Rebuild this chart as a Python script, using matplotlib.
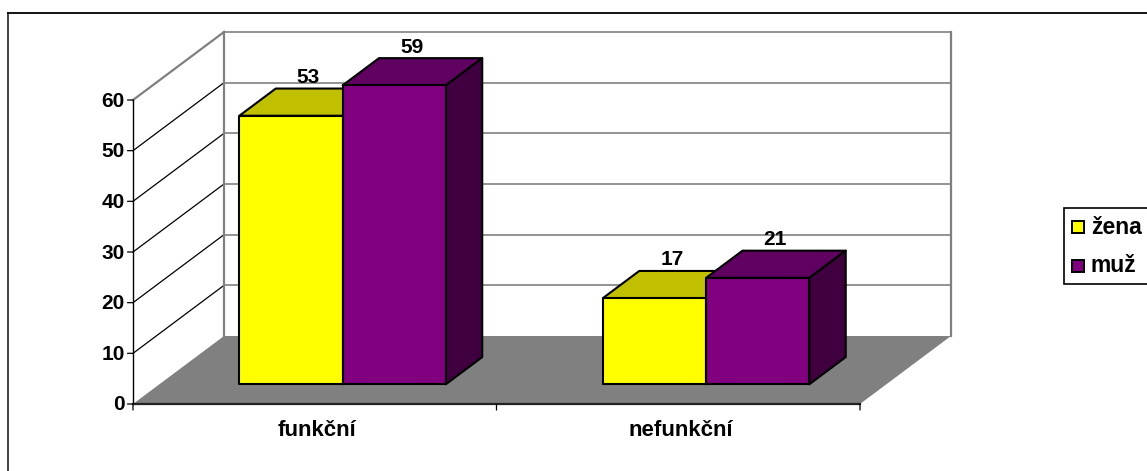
import matplotlib
matplotlib.use('Agg')
import matplotlib.pyplot as plt
from matplotlib.patches import Polygon, Rectangle

plt.rcParams['font.family'] = ['Liberation Sans', 'DejaVu Sans']

categories = ['funkční', 'nefunkční']
series_names = ['žena', 'muž']
zena = [53, 17]
muz = [59, 21]
y_ticks = [0, 10, 20, 30, 40, 50, 60]

colors = ['#FFFF00', '#800080']
top_colors = ['#C0C000', '#600060']
side_colors = ['#BFBF00', '#400040']

W, H = 1147, 471
fig = plt.figure(figsize=(W / 100, H / 100), dpi=100)

# osy = predni rovina grafu, x v kategoriich, y v hodnotach
left, right, y0, y60 = 133, 860, 404, 100
ax = fig.add_axes([left / W, 1 - y0 / H, (right - left) / W, (y0 - y60) / H])
ax.set_xlim(0, 2)
ax.set_ylim(0, 60)
ax.axis('off')

# hloubka grafu v jednotkach os
depth_x = 91 / (right - left) * 2
depth_y = 68 / (y0 - y60) * 60


def proj(x, y, d):
    return (x + d * depth_x, y + d * depth_y)


# podlaha
ax.add_patch(Polygon([proj(0, 0, 0), proj(2, 0, 0), proj(2, 0, 1), proj(0, 0, 1)],
                     fc='#808080', ec='none', zorder=1, clip_on=False))

# mrizka na bocni a zadni stene
for v in y_ticks[1:]:
    side_c = '#808080' if v == 60 else 'black'
    side_w = 1.6 if v == 60 else 0.9
    ax.plot(*zip(proj(0, v, 0), proj(0, v, 1)), c=side_c, lw=side_w, zorder=2, clip_on=False)
    ax.plot(*zip(proj(0, v, 1), proj(2, v, 1)), c='#808080', lw=1.2, zorder=2, clip_on=False)
ax.plot(*zip(proj(0, 0, 1), proj(0, 60, 1)), c='#808080', lw=1.6, zorder=2, clip_on=False)
ax.plot(*zip(proj(2, 0, 1), proj(2, 60, 1)), c='#808080', lw=1.6, zorder=2, clip_on=False)

# osy
ax.plot([0, 0], [0, 60], c='black', lw=1.0, zorder=3, clip_on=False)
ax.plot([0, 2], [0, 0], c='#222222', lw=1.6, zorder=3, clip_on=False)
for v in y_ticks:
    ax.annotate(str(v), (0, v), xytext=(-8, -1), textcoords='offset pixels', ha='right', va='center',
                fontsize=15, fontweight='bold', annotation_clip=False)
    ax.annotate('', (0, v), xytext=(-5.5, 0), textcoords='offset pixels',
                arrowprops=dict(arrowstyle='-', color='black', lw=0.9, shrinkA=0, shrinkB=0),
                annotation_clip=False)
for x in [0, 1, 2]:
    ax.annotate('', (x, 0), xytext=(0, -6), textcoords='offset pixels',
                arrowprops=dict(arrowstyle='-', color='black', lw=0.9, shrinkA=0, shrinkB=0),
                annotation_clip=False)
for i, c in enumerate(categories):
    ax.annotate(c, (i + 0.5, 0), xytext=(2.5, -27), textcoords='offset pixels', ha='center', va='center',
                fontsize=16, fontweight='bold', annotation_clip=False)

# sloupce
bar_w = 0.284
d_front, d_back = 0.29, 0.69
for i in range(len(categories)):
    for j, vals in enumerate([zena, muz]):
        x0 = i + 0.22 + j * bar_w
        x1 = x0 + bar_w
        v = vals[i]
        z = 5 + j
        ax.add_patch(Polygon([proj(x0, v, d_front), proj(x1, v, d_front), proj(x1, v, d_back), proj(x0, v, d_back)],
                             fc=top_colors[j], ec='black', lw=1.5, joinstyle='round', zorder=z, clip_on=False))
        ax.add_patch(Polygon([proj(x1, 0, d_front), proj(x1, v, d_front), proj(x1, v, d_back), proj(x1, 0, d_back)],
                             fc=side_colors[j], ec='black', lw=1.5, joinstyle='round', zorder=z, clip_on=False))
        ax.add_patch(Polygon([proj(x0, 0, d_front), proj(x1, 0, d_front), proj(x1, v, d_front), proj(x0, v, d_front)],
                             fc=colors[j], ec='black', lw=1.5, joinstyle='round', zorder=z, clip_on=False))
        lx, ly = proj((x0 + x1) / 2, v, d_back)
        ax.annotate(str(v), (lx, ly), xytext=(-19, 11), textcoords='offset pixels', ha='center', va='center',
                    fontsize=15, fontweight='bold', zorder=8, annotation_clip=False)

# ramecek grafu
fig.add_artist(plt.Line2D([8 / W, 8 / W], [0, 1 - 13 / H], c='#333333', lw=1.3))
fig.add_artist(plt.Line2D([8 / W, 1], [1 - 13 / H, 1 - 13 / H], c='black', lw=1.3))

# legenda
fig.add_artist(Rectangle((1063.5 / W, 1 - 284 / H), 90 / W, 76 / H, transform=fig.transFigure,
                         fc='white', ec='black', lw=1.2))
for k, name in enumerate(series_names):
    yc = [227, 266][k]
    fig.add_artist(Rectangle((1071.5 / W, 1 - (yc + 6) / H), 12 / W, 12 / H, transform=fig.transFigure,
                             fc=colors[k], ec='black', lw=1.4))
    fig.text(1091 / W, 1 - yc / H, name, fontsize=16.5, fontweight='bold', ha='left', va='center')

fig.savefig('out.png', dpi=100)
